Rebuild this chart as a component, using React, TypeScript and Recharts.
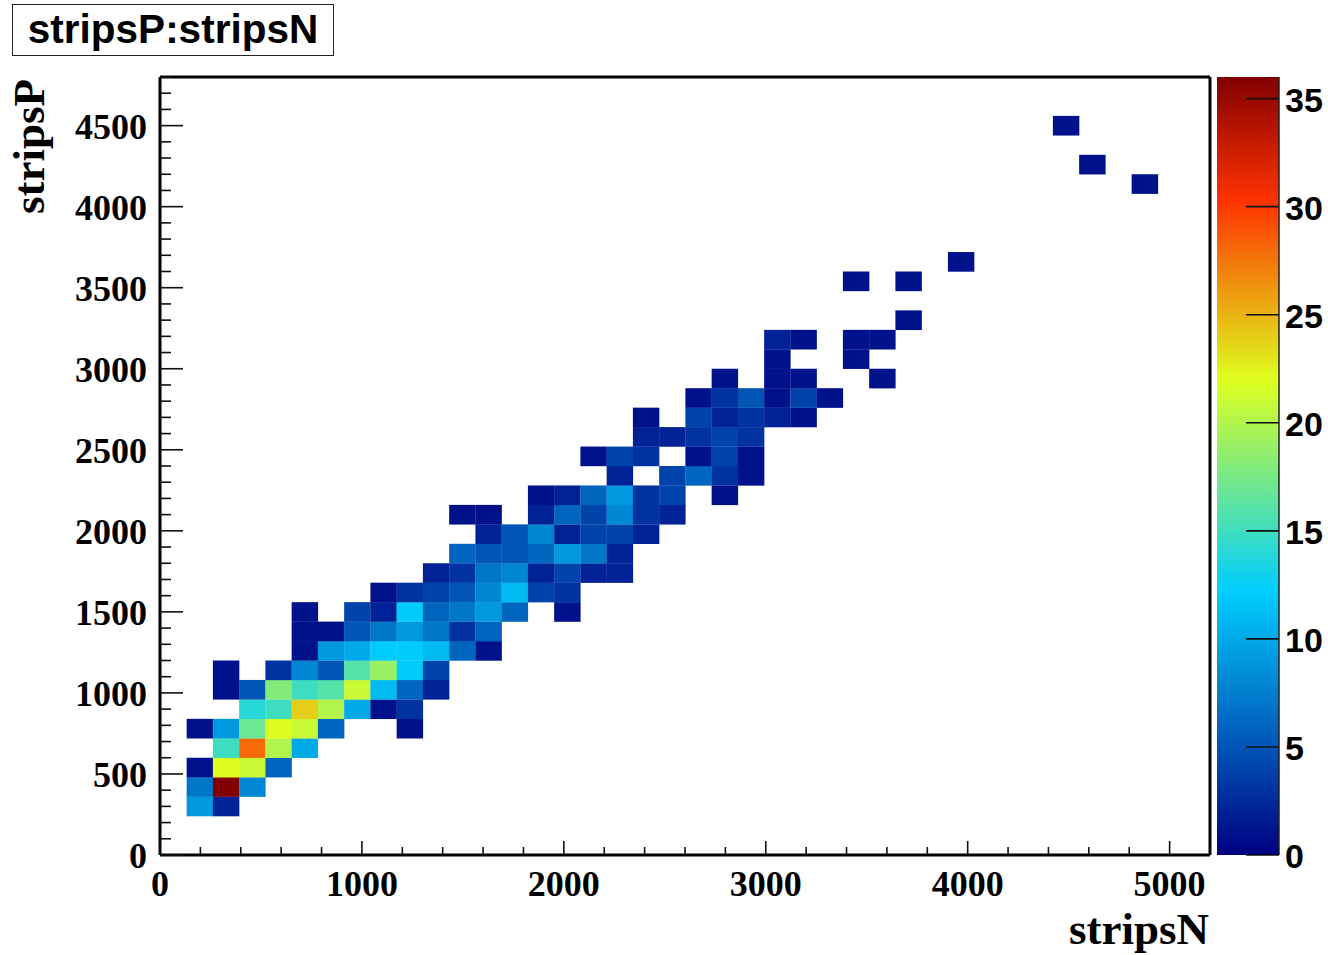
import React from 'react';
import { ScatterChart, Scatter, XAxis, YAxis, BarChart, Bar, Label } from 'recharts';

// Histogram binning
const xBinWidth = 130;
const yBinWidth = 120;
const xMax = 5200;
const yMax = 4800;
const zMax = 36;

// Tick labels and positions
const xMajor = [0, 1000, 2000, 3000, 4000, 5000];
const yMajor = [0, 500, 1000, 1500, 2000, 2500, 3000, 3500, 4000, 4500];
const xTicks = [0,200,400,600,800,1000,1200,1400,1600,1800,2000,2200,2400,2600,2800,3000,3200,3400,3600,3800,4000,4200,4400,4600,4800,5000,5200];
const yTicks = [0,100,200,300,400,500,600,700,800,900,1000,1100,1200,1300,1400,1500,1600,1700,1800,1900,2000,2100,2200,2300,2400,2500,2600,2700,2800,2900,3000,3100,3200,3300,3400,3500,3600,3700,3800,3900,4000,4100,4200,4300,4400,4500,4600,4700,4800];
const zTicks = [0, 5, 10, 15, 20, 25, 30, 35];

// Bin contents: [stripsP row, first stripsN column, counts...]
const rowA = [[2,1,9,2],[3,1,7,36,8],[4,1,1,22,21,6],[5,2,15,28,20,10],[6,1,1,9,17,22,21,6,0,0,1]];
const rowB = [[7,3,14,15,24,20,10,1,3],[8,2,1,5,18,15,16,21,11,6,2],[9,2,1,0,3,8,5,16,19,12,4],[10,5,1,9,10,12,12,11,6,1],[11,5,1,1,5,7,9,7,3,6]];
const rowC = [[12,5,1,0,4,2,12,6,7,9,6,0,1],[13,8,1,3,4,5,8,11,4,3],[14,10,2,3,7,8,2,4,2,2],[15,11,6,5,5,6,9,7,2],[16,12,2,5,8,2,4,4,2]];
const rowD = [[17,11,1,1,0,2,6,4,8,3,2],[18,14,1,2,6,9,3,4,0,1],[19,17,2,0,4,6,3,1],[20,16,1,4,3,0,1,4,1],[21,18,2,2,3,4,3]];
const rowE = [[22,18,1,0,4,2,3,2,1],[23,20,1,3,5,1,4,1],[24,21,1,0,1,1,0,0,1],[25,23,1,0,0,1],[26,23,2,1,0,1,1]];
const rowF = [[27,28,1],[29,26,1,0,1],[30,30,1],[34,37,1],[35,35,1],[37,34,1]];

const cells = [...rowA, ...rowB, ...rowC, ...rowD, ...rowE, ...rowF].flatMap(([row, col, ...counts]) =>
  counts
    .map((count, i) => ({
      stripsN: (col + i + 0.5) * xBinWidth,
      stripsP: (row + 0.5) * yBinWidth,
      count,
    }))
    .filter((c) => c.count > 0),
);

const colorbar = [{ name: 'z', value: zMax }];

const stops = [
  { at: 0, c: [0, 0, 130] },
  { at: 0.34, c: [0, 207, 255] },
  { at: 0.61, c: [222, 255, 31] },
  { at: 0.84, c: [255, 51, 0] },
  { at: 1, c: [130, 0, 0] },
];
const rgb = (c: number[]) => `rgb(${c.map((v) => Math.round(v)).join(',')})`;
const colorOf = (v: number) => {
  const t = Math.min(1, v / zMax);
  for (let i = 1; i < stops.length; i++) {
    if (t <= stops[i].at) {
      const a = stops[i - 1];
      const b = stops[i];
      const f = (t - a.at) / (b.at - a.at);
      return rgb(a.c.map((x, k) => x + (b.c[k] - x) * f));
    }
  }
  return rgb(stops[4].c);
};

const W = 1328;
const H = 955;
const left = 160;
const right = 1210;
const top = 77;
const bottom = 855;
const cellW = (right - left) / (xMax / xBinWidth);
const cellH = (bottom - top) / (yMax / yBinWidth);

const serif = '"Liberation Serif", serif';
const sans = '"Liberation Sans", sans-serif';

const Cell = (p: any) => {
  const { cx, cy, payload } = p;
  return <rect x={cx - cellW / 2 + 0.4} y={cy - cellH / 2} width={cellW + 0.2} height={cellH + 0.2} fill={colorOf(payload.count)} />;
};

const BottomTick = (p: any) => {
  const major = xMajor.includes(p.payload.value);
  return (
    <g>
      <line x1={p.x} x2={p.x} y1={bottom} y2={bottom - (major ? 14 : 8)} stroke="#111" strokeWidth={1.6} />
      {major && (
        <text x={p.x} y={896} textAnchor="middle" fontFamily={serif} fontWeight="bold" fontSize={36} fill="#000">
          {p.payload.value}
        </text>
      )}
    </g>
  );
};
const TopTick = (p: any) => {
  const major = xMajor.includes(p.payload.value);
  return <line x1={p.x} x2={p.x} y1={top} y2={top + (major ? 14 : 8)} stroke="#111" strokeWidth={1.6} />;
};
const LeftTick = (p: any) => {
  const major = yMajor.includes(p.payload.value);
  return (
    <g>
      <line x1={left} x2={left + (major ? 23 : 11)} y1={p.y} y2={p.y} stroke="#111" strokeWidth={1.6} />
      {major && (
        <text x={147} y={p.y + 13} textAnchor="end" fontFamily={serif} fontWeight="bold" fontSize={36} fill="#000">
          {p.payload.value}
        </text>
      )}
    </g>
  );
};
const RightTick = (p: any) => {
  const major = yMajor.includes(p.payload.value);
  return <line x1={right} x2={right - (major ? 23 : 11)} y1={p.y} y2={p.y} stroke="#111" strokeWidth={1.6} />;
};
const ZTick = (p: any) => (
  <g>
    <line x1={36} x2={69} y1={p.y} y2={p.y} stroke="#111" strokeWidth={1.6} />
    <text x={75} y={p.y + 13} fontFamily={sans} fontWeight="bold" fontSize={34} fill="#000">
      {p.payload.value}
    </text>
  </g>
);

const frame = { stroke: '#000', strokeWidth: 3 };

export default function App() {
  return (
    <div style={{ position: 'absolute', left: 0, top: 0, width: W, height: H, background: '#fff', overflow: 'hidden' }}>
      <ScatterChart width={W} height={H} margin={{ left: 0, right: W - right - 1, top: top - 1, bottom: 0 }}>
        <XAxis xAxisId="b" type="number" dataKey="stripsN" domain={[0, xMax]} ticks={xTicks} interval={0} tickSize={0} height={H - bottom} axisLine={frame} tickLine={false} tick={<BottomTick />}>
          <Label
            content={() => (
              <text x={1209} y={944} textAnchor="end" fontFamily={serif} fontWeight="bold" fontSize={45} fill="#000">
                stripsN
              </text>
            )}
          />
        </XAxis>
        <XAxis xAxisId="t" orientation="top" type="number" domain={[0, xMax]} ticks={xTicks} interval={0} tickSize={0} height={1} axisLine={frame} tickLine={false} tick={<TopTick />} />
        <YAxis yAxisId="l" type="number" dataKey="stripsP" domain={[0, yMax]} ticks={yTicks} interval={0} tickSize={0} width={left} axisLine={frame} tickLine={false} tick={<LeftTick />}>
          <Label
            content={() => (
              <text transform="translate(44,214) rotate(-90)" fontFamily={serif} fontWeight="bold" fontSize={45} fill="#000">
                stripsP
              </text>
            )}
          />
        </YAxis>
        <YAxis yAxisId="r" orientation="right" type="number" domain={[0, yMax]} ticks={yTicks} interval={0} tickSize={0} width={1} axisLine={frame} tickLine={false} tick={<RightTick />} />
        <Scatter data={cells} xAxisId="b" yAxisId="l" shape={<Cell />} isAnimationActive={false} />
      </ScatterChart>

      <div style={{ position: 'absolute', left: 1210, top: 0 }}>
        <BarChart width={W - 1210} height={H} data={colorbar} barCategoryGap={0} margin={{ left: 7, right: W - 1279 - 1, top, bottom: H - bottom }}>
          <defs>
            <linearGradient id="zGrad" x1="0" y1="1" x2="0" y2="0">
              {stops.map((s) => (
                <stop key={s.at} offset={s.at} stopColor={rgb(s.c)} />
              ))}
            </linearGradient>
          </defs>
          <XAxis dataKey="name" hide />
          <YAxis orientation="right" type="number" domain={[0, zMax]} ticks={zTicks} interval={0} tickSize={0} width={1} axisLine={{ stroke: '#222', strokeWidth: 1.5 }} tickLine={false} tick={<ZTick />} />
          <Bar dataKey="value" fill="url(#zGrad)" isAnimationActive={false} />
        </BarChart>
      </div>

      <div
        style={{
          position: 'absolute',
          left: 12,
          top: 4,
          width: 320,
          height: 50,
          border: '1.5px solid #222',
          fontFamily: sans,
          fontWeight: 'bold',
          fontSize: 40.5,
          lineHeight: '48px',
          textAlign: 'center',
          color: '#000',
          whiteSpace: 'nowrap',
        }}
      >
        stripsP:stripsN
      </div>
    </div>
  );
}
